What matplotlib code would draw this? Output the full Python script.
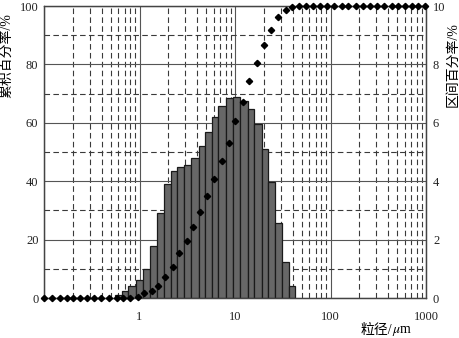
import matplotlib
matplotlib.use("Agg")
import matplotlib.pyplot as plt
import numpy as np
from matplotlib.ticker import FixedLocator, FixedFormatter, LogLocator, NullFormatter

# bin edges of the histogram (um)
edges = [0.554, 0.661, 0.763, 0.919, 1.096, 1.288, 1.536, 1.805, 2.137, 2.488,
         2.945, 3.462, 4.169, 4.89, 5.79, 6.69, 8.05, 9.60, 11.28, 13.58,
         15.93, 19.04, 22.0, 26.23, 30.83, 37.03, 42.5]
# interval percentage per bin (right axis)
interval = [0.10, 0.25, 0.41, 0.62, 0.98, 1.78, 2.92, 3.90, 4.34, 4.48,
            4.54, 4.79, 5.21, 5.68, 6.21, 6.58, 6.84, 6.89, 6.75, 6.47,
            5.96, 5.12, 3.97, 2.56, 1.24, 0.41]

# cumulative curve (left axis)
cum_size = [0.100, 0.121, 0.147, 0.175, 0.203, 0.238, 0.282, 0.334, 0.395, 0.474,
            0.577, 0.667, 0.795, 0.958, 1.115, 1.342, 1.562, 1.849, 2.227, 2.592,
            3.121, 3.607, 4.300, 5.128, 6.027, 7.256, 8.716, 10.0, 12.04, 14.11,
            16.88, 20.12, 23.65, 28.41, 33.96, 39.24, 47.13, 55.4, 65.1, 77.6,
            91.3, 109.6, 131.1, 153.7, 184.9, 217.4, 259.2, 304.6, 363.3, 437.3,
            512.8, 602.8, 708.6, 830.8, 976.0]
cum_pct = [0, 0, 0, 0, 0, 0, 0, 0, 0, 0,
           0, 0, 0.1, 0.45, 1.6, 2.5, 4.1, 7.1, 10.7, 15.5,
           19.6, 24.4, 29.6, 34.9, 40.6, 46.9, 53.2, 60.6, 67.2, 74.2,
           80.4, 86.6, 91.8, 96.1, 98.6, 99.8, 100, 100, 100, 100,
           100, 100, 100, 100, 100, 100, 100, 100, 100, 100,
           100, 100, 100, 100, 100]

xticks = [0.1, 1, 10, 100, 1000]
xticklabels = ["", "1", "10", "100", "1000"]

plt.rcParams['font.family'] = ['Liberation Serif', 'Noto Sans CJK SC']
plt.rcParams['mathtext.fontset'] = 'stix'

fig = plt.figure(figsize=(4.6, 3.38), dpi=100)
ax = fig.add_axes([0.0957, 0.1183, 0.8304, 0.8639])

grid_col = '#555555'
ax.set_axisbelow(True)
ax.bar(edges[:-1], interval, width=np.diff(edges), align='edge',
       color='#676767', edgecolor='#1a1a1a', linewidth=0.9, zorder=2)

ax.set_xscale('log')
ax.set_xlim(0.1, 1000)
ax.set_ylim(0, 10)
ax.xaxis.set_major_locator(FixedLocator(xticks))
ax.xaxis.set_major_formatter(FixedFormatter(xticklabels))
ax.xaxis.set_minor_locator(LogLocator(base=10, subs=np.arange(2, 10)))
ax.xaxis.set_minor_formatter(NullFormatter())
ax.yaxis.set_major_locator(FixedLocator([0, 2, 4, 6, 8, 10]))
ax.yaxis.set_minor_locator(FixedLocator([1, 3, 5, 7, 9]))
ax.grid(which='major', ls='-', color=grid_col, lw=0.8)
ax.grid(which='minor', ls=(0, (5, 3)), color='#3a3a3a', lw=0.8)

ax2 = ax.twinx()
ax2.plot(cum_size, cum_pct, ls='none', marker='D', ms=3.2, color='black',
         clip_on=False, zorder=5)
ax2.set_ylim(0, 100)
ax2.yaxis.set_major_locator(FixedLocator([0, 20, 40, 60, 80, 100]))

# swap sides: bars (0-10) on the right, cumulative (0-100) on the left
ax.yaxis.tick_right()
ax2.yaxis.tick_left()

ax.tick_params(which='both', length=0, labelsize=9, colors='#222222')
ax.tick_params(axis='x', pad=9)
ax.tick_params(axis='y', pad=5)
ax2.tick_params(which='both', length=0, labelsize=9, colors='#222222', pad=4)

for a in (ax, ax2):
    for s in a.spines.values():
        s.set_color('#444444')
        s.set_linewidth(0.9)

fig.text(0.017, 0.837, "累积百分率/%", rotation=90, ha='center', va='center', fontsize=10)
fig.text(0.985, 0.808, "区间百分率/%", rotation=90, ha='center', va='center', fontsize=10)
fig.text(0.852, 0.021, "粒径/", ha='right', va='center', fontsize=10)
fig.text(0.852, 0.021, "$\\mu$m", ha='left', va='center', fontsize=10)

fig.savefig("out.png", dpi=100)
